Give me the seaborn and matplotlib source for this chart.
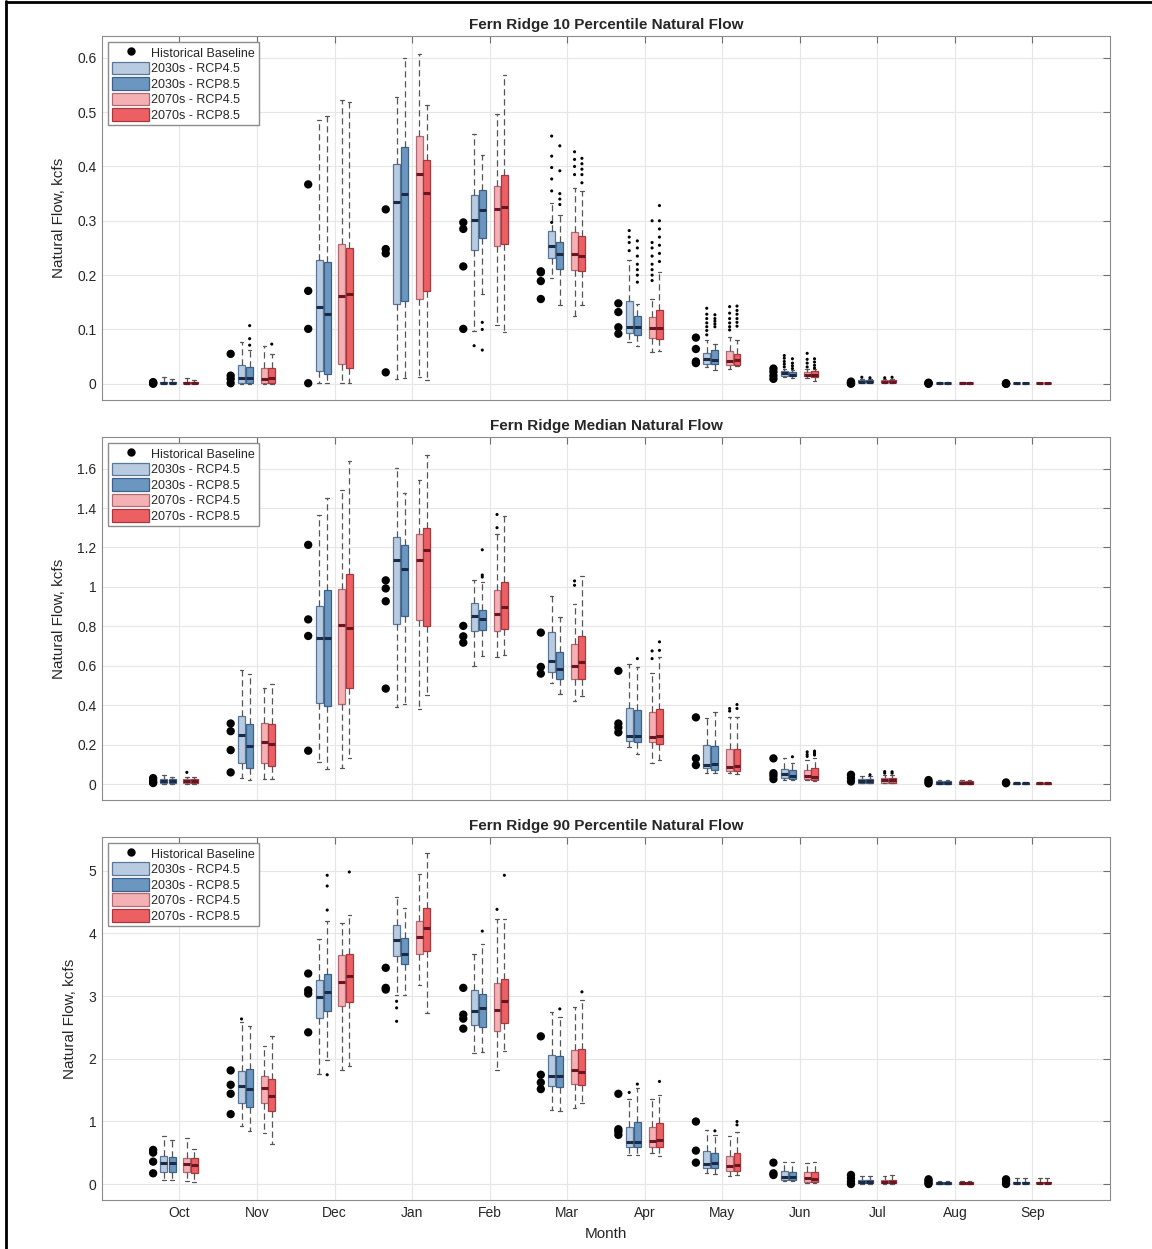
# Fern Ridge natural flow - monthly boxplots by climate scenario
import pandas as pd
import seaborn as sns
import matplotlib.pyplot as plt
from matplotlib.lines import Line2D
from matplotlib.patches import Patch
from matplotlib.ticker import FuncFormatter

months = ['Oct', 'Nov', 'Dec', 'Jan', 'Feb', 'Mar', 'Apr', 'May', 'Jun', 'Jul', 'Aug', 'Sep']
scenarios = ['2030s - RCP4.5', '2030s - RCP8.5', '2070s - RCP4.5', '2070s - RCP8.5']

# ---------------------------------------------------------------
# 10 percentile panel  (box stats: low whisker, q1, median, q3, high whisker)
# ---------------------------------------------------------------
p10_hist = [[0.0, 0.001, 0.002, 0.003], [0.055, 0.015, 0.009, 0.001], [0.367, 0.171, 0.101, 0.001],
            [0.321, 0.248, 0.240, 0.021], [0.297, 0.285, 0.216, 0.101], [0.207, 0.205, 0.189, 0.156],
            [0.148, 0.132, 0.104, 0.092], [0.085, 0.064, 0.041, 0.038], [0.028, 0.022, 0.015, 0.009],
            [0.004, 0.002, 0.001, 0.0], [0.002, 0.001, 0.0005, 0.0], [0.001, 0.0005, 0.0, 0.0]]
p10_c45 = [(0.0, 0.001, 0.002, 0.004, 0.012), (0.0, 0.001, 0.010, 0.034, 0.077), (0.001, 0.023, 0.141, 0.227, 0.485),
           (0.009, 0.146, 0.334, 0.404, 0.527), (0.098, 0.246, 0.301, 0.347, 0.460), (0.195, 0.231, 0.253, 0.282, 0.332),
           (0.077, 0.093, 0.105, 0.153, 0.227), (0.031, 0.036, 0.046, 0.057, 0.080), (0.012, 0.015, 0.019, 0.023, 0.027),
           (0.001, 0.003, 0.004, 0.006, 0.009), (0.0, 0.001, 0.0015, 0.002, 0.003), (0.0, 0.0005, 0.001, 0.0015, 0.002)]
p10_c85 = [(0.0, 0.001, 0.002, 0.003, 0.008), (0.0, 0.001, 0.010, 0.031, 0.062), (0.001, 0.018, 0.129, 0.225, 0.493),
           (0.011, 0.152, 0.350, 0.435, 0.600), (0.165, 0.269, 0.320, 0.357, 0.421), (0.145, 0.212, 0.238, 0.261, 0.310),
           (0.070, 0.090, 0.105, 0.124, 0.147), (0.025, 0.036, 0.044, 0.063, 0.074), (0.011, 0.014, 0.017, 0.022, 0.025),
           (0.001, 0.003, 0.004, 0.006, 0.009), (0.0, 0.001, 0.0015, 0.002, 0.003), (0.0, 0.0005, 0.001, 0.0015, 0.002)]
p10_f45 = [(0.0, 0.001, 0.002, 0.003, 0.010), (0.0, 0.001, 0.008, 0.029, 0.070), (0.001, 0.036, 0.162, 0.257, 0.522),
           (0.013, 0.156, 0.386, 0.456, 0.607), (0.109, 0.254, 0.321, 0.364, 0.496), (0.124, 0.209, 0.239, 0.279, 0.361),
           (0.058, 0.085, 0.102, 0.122, 0.156), (0.028, 0.034, 0.042, 0.060, 0.086), (0.010, 0.014, 0.017, 0.022, 0.027),
           (0.001, 0.003, 0.004, 0.006, 0.009), (0.0, 0.001, 0.0015, 0.002, 0.003), (0.0, 0.0005, 0.001, 0.0015, 0.002)]
p10_f85 = [(0.0, 0.001, 0.002, 0.003, 0.006), (0.0, 0.001, 0.011, 0.029, 0.055), (0.001, 0.029, 0.165, 0.250, 0.519),
           (0.007, 0.170, 0.352, 0.412, 0.513), (0.096, 0.257, 0.326, 0.385, 0.568), (0.145, 0.208, 0.235, 0.272, 0.355),
           (0.060, 0.083, 0.103, 0.135, 0.205), (0.033, 0.034, 0.043, 0.054, 0.080), (0.005, 0.013, 0.017, 0.023, 0.028),
           (0.001, 0.003, 0.004, 0.006, 0.009), (0.0, 0.001, 0.0015, 0.002, 0.003), (0.0, 0.0005, 0.001, 0.0015, 0.002)]
# outliers: (month index, value)
p10_out_c45 = [(4, 0.070), (5, 0.297), (5, 0.355), (5, 0.377), (5, 0.398), (5, 0.419), (5, 0.456),
               (6, 0.245), (6, 0.260), (6, 0.270), (6, 0.282), (7, 0.090), (7, 0.098), (7, 0.105), (7, 0.112),
               (7, 0.120), (7, 0.128), (7, 0.139), (8, 0.031), (8, 0.036), (8, 0.041), (8, 0.047), (8, 0.052), (9, 0.012)]
p10_out_c85 = [(1, 0.071), (1, 0.083), (1, 0.107), (4, 0.113), (4, 0.100), (4, 0.062), (5, 0.330), (5, 0.340),
               (5, 0.350), (5, 0.392), (5, 0.438), (6, 0.187), (6, 0.200), (6, 0.210), (6, 0.220), (6, 0.235),
               (6, 0.250), (6, 0.263), (7, 0.105), (7, 0.110), (7, 0.115), (7, 0.120), (7, 0.127), (8, 0.028),
               (8, 0.033), (8, 0.038), (8, 0.046), (9, 0.011)]
p10_out_f45 = [(5, 0.385), (5, 0.400), (5, 0.413), (5, 0.427), (6, 0.190), (6, 0.200), (6, 0.210), (6, 0.220),
               (6, 0.235), (6, 0.250), (6, 0.260), (6, 0.300), (7, 0.099), (7, 0.105), (7, 0.112), (7, 0.120),
               (7, 0.130), (7, 0.142), (8, 0.031), (8, 0.038), (8, 0.045), (8, 0.056), (9, 0.011)]
p10_out_f85 = [(1, 0.073), (5, 0.370), (5, 0.385), (5, 0.395), (5, 0.405), (5, 0.415), (6, 0.225), (6, 0.240),
               (6, 0.255), (6, 0.270), (6, 0.285), (6, 0.300), (6, 0.328), (7, 0.106), (7, 0.113), (7, 0.120),
               (7, 0.128), (7, 0.135), (7, 0.143), (8, 0.029), (8, 0.034), (8, 0.040), (8, 0.046), (9, 0.012)]

# ---------------------------------------------------------------
# median panel
# ---------------------------------------------------------------
p50_hist = [[0.030, 0.020, 0.010, 0.005], [0.307, 0.268, 0.172, 0.059], [1.213, 0.835, 0.751, 0.169],
            [1.033, 0.992, 0.927, 0.484], [0.802, 0.749, 0.717], [0.768, 0.594, 0.560],
            [0.574, 0.307, 0.287, 0.262], [0.338, 0.130, 0.096], [0.130, 0.055, 0.042, 0.025],
            [0.047, 0.030, 0.013], [0.020, 0.010, 0.003], [0.008, 0.004]]
p50_c45 = [(0.0, 0.003, 0.017, 0.025, 0.045), (0.029, 0.108, 0.251, 0.344, 0.577), (0.110, 0.412, 0.743, 0.901, 1.362),
           (0.392, 0.810, 1.134, 1.252, 1.603), (0.597, 0.776, 0.852, 0.920, 1.036), (0.510, 0.569, 0.623, 0.771, 0.954),
           (0.186, 0.219, 0.243, 0.388, 0.611), (0.057, 0.079, 0.098, 0.196, 0.336), (0.022, 0.030, 0.050, 0.077, 0.133),
           (0.005, 0.007, 0.015, 0.027, 0.043), (0.001, 0.002, 0.007, 0.015, 0.020), (0.0, 0.002, 0.004, 0.006, 0.009)]
p50_c85 = [(0.0, 0.003, 0.017, 0.023, 0.038), (0.020, 0.079, 0.192, 0.302, 0.560), (0.074, 0.397, 0.743, 0.982, 1.451),
           (0.408, 0.851, 1.092, 1.213, 1.477), (0.650, 0.783, 0.839, 0.884, 1.024), (0.459, 0.535, 0.584, 0.670, 0.847),
           (0.152, 0.214, 0.246, 0.375, 0.594), (0.054, 0.071, 0.101, 0.192, 0.366), (0.020, 0.025, 0.042, 0.072, 0.108),
           (0.005, 0.007, 0.015, 0.027, 0.040), (0.001, 0.002, 0.007, 0.015, 0.020), (0.0, 0.002, 0.004, 0.006, 0.009)]
p50_f45 = [(0.0, 0.003, 0.015, 0.023, 0.035), (0.024, 0.105, 0.211, 0.311, 0.489), (0.079, 0.408, 0.805, 0.989, 1.489),
           (0.383, 0.830, 1.134, 1.269, 1.543), (0.645, 0.775, 0.861, 0.986, 1.269), (0.420, 0.532, 0.599, 0.709, 0.915),
           (0.108, 0.214, 0.236, 0.363, 0.565), (0.054, 0.068, 0.088, 0.176, 0.341), (0.020, 0.025, 0.042, 0.072, 0.122),
           (0.005, 0.007, 0.018, 0.030, 0.045), (0.001, 0.002, 0.007, 0.015, 0.020), (0.0, 0.002, 0.004, 0.006, 0.009)]
p50_f85 = [(0.0, 0.003, 0.015, 0.023, 0.035), (0.024, 0.093, 0.201, 0.302, 0.506), (0.130, 0.488, 0.793, 1.065, 1.640),
           (0.454, 0.800, 1.185, 1.300, 1.671), (0.653, 0.785, 0.898, 1.024, 1.357), (0.447, 0.532, 0.619, 0.751, 1.055),
           (0.120, 0.201, 0.245, 0.383, 0.645), (0.049, 0.066, 0.091, 0.179, 0.341), (0.015, 0.022, 0.038, 0.080, 0.130),
           (0.005, 0.007, 0.018, 0.030, 0.045), (0.001, 0.002, 0.007, 0.015, 0.020), (0.0, 0.002, 0.004, 0.006, 0.009)]
p50_out_c45 = []
p50_out_c85 = [(4, 1.050), (4, 1.060), (4, 1.188), (6, 0.636), (8, 0.138), (9, 0.047)]
p50_out_f45 = [(0, 0.059), (4, 1.300), (4, 1.367), (5, 1.008), (5, 1.030), (6, 0.636), (6, 0.675), (7, 0.370),
               (7, 0.383), (8, 0.140), (8, 0.150), (8, 0.163), (9, 0.055), (9, 0.063)]
p50_out_f85 = [(6, 0.678), (6, 0.721), (7, 0.383), (7, 0.403), (8, 0.147), (8, 0.155), (8, 0.160), (8, 0.167),
               (9, 0.055), (9, 0.062)]

# ---------------------------------------------------------------
# 90 percentile panel
# ---------------------------------------------------------------
p90_hist = [[0.544, 0.501, 0.357, 0.171], [1.813, 1.584, 1.440, 1.115], [3.360, 3.093, 3.040, 2.421],
            [3.451, 3.131, 3.104], [3.131, 2.704, 2.640, 2.480], [2.357, 1.744, 1.621, 1.515],
            [1.440, 0.875, 0.837, 0.784], [0.997, 0.533, 0.341], [0.341, 0.171, 0.144],
            [0.144, 0.091, 0.037, 0.0], [0.075, 0.050, 0.020, 0.0], [0.075, 0.037, 0.0]]
p90_c45 = [(0.064, 0.197, 0.341, 0.448, 0.768), (0.933, 1.291, 1.557, 1.797, 2.581), (1.760, 2.651, 2.987, 3.264, 3.904),
           (3.024, 3.637, 3.893, 4.128, 4.587), (2.091, 2.533, 2.768, 3.093, 3.664), (1.184, 1.557, 1.717, 2.064, 2.741),
           (0.464, 0.587, 0.677, 0.917, 1.355), (0.171, 0.251, 0.320, 0.528, 0.864), (0.053, 0.064, 0.117, 0.213, 0.347),
           (0.0, 0.010, 0.037, 0.064, 0.133), (0.0, 0.005, 0.010, 0.037, 0.053), (0.0, 0.010, 0.020, 0.037, 0.090)]
p90_c85 = [(0.064, 0.197, 0.341, 0.437, 0.704), (0.853, 1.237, 1.520, 1.835, 2.517), (1.984, 2.757, 3.067, 3.360, 4.197),
           (3.013, 3.504, 3.664, 3.931, 4.411), (2.101, 2.507, 2.811, 3.040, 3.824), (1.173, 1.547, 1.717, 2.037, 2.667),
           (0.464, 0.597, 0.677, 0.987, 1.531), (0.160, 0.261, 0.331, 0.501, 0.784), (0.040, 0.064, 0.107, 0.187, 0.357),
           (0.0, 0.010, 0.037, 0.064, 0.133), (0.0, 0.005, 0.010, 0.037, 0.053), (0.0, 0.010, 0.020, 0.037, 0.090)]
p90_f45 = [(0.053, 0.197, 0.320, 0.421, 0.731), (0.821, 1.291, 1.531, 1.717, 2.197), (1.813, 2.837, 3.227, 3.653, 4.160),
           (3.173, 3.664, 3.941, 4.197, 4.955), (1.824, 2.437, 2.773, 3.211, 4.224), (1.211, 1.600, 1.824, 2.133, 2.821),
           (0.491, 0.597, 0.688, 0.907, 1.360), (0.128, 0.213, 0.288, 0.453, 0.768), (0.020, 0.037, 0.091, 0.187, 0.330),
           (0.0, 0.010, 0.037, 0.064, 0.133), (0.0, 0.005, 0.010, 0.037, 0.053), (0.0, 0.010, 0.020, 0.037, 0.090)]
p90_f85 = [(0.037, 0.171, 0.304, 0.411, 0.555), (0.640, 1.173, 1.408, 1.675, 2.368), (1.877, 2.907, 3.328, 3.675, 4.288),
           (2.731, 3.717, 4.091, 4.400, 5.280), (2.117, 2.571, 2.928, 3.275, 4.235), (1.291, 1.573, 1.781, 2.155, 2.933),
           (0.448, 0.587, 0.704, 0.981, 1.424), (0.144, 0.213, 0.304, 0.491, 0.837), (0.020, 0.027, 0.080, 0.187, 0.347),
           (0.0, 0.010, 0.037, 0.064, 0.140), (0.0, 0.005, 0.010, 0.037, 0.053), (0.0, 0.010, 0.020, 0.037, 0.090)]
p90_out_c45 = [(1, 2.635), (3, 2.917), (3, 2.811), (3, 2.597), (6, 1.461)]
p90_out_c85 = [(2, 4.373), (2, 4.757), (2, 4.928), (2, 1.744), (4, 4.037), (5, 2.795), (6, 1.595), (7, 0.848)]
p90_out_f45 = [(4, 4.384)]
p90_out_f85 = [(2, 4.981), (4, 4.928), (5, 3.067), (6, 1.637), (7, 0.944), (7, 0.997)]

titles = ['Fern Ridge 10 Percentile Natural Flow', 'Fern Ridge Median Natural Flow',
          'Fern Ridge 90 Percentile Natural Flow']
ylims = [(-0.03, 0.64), (-0.081, 1.76), (-0.256, 5.54)]
yticks = [[0, 0.1, 0.2, 0.3, 0.4, 0.5, 0.6], [0, 0.2, 0.4, 0.6, 0.8, 1, 1.2, 1.4, 1.6], [0, 1, 2, 3, 4, 5]]

# styling
fills = ['#b8cbe0', '#6a96c0', '#f4b0b2', '#ec6064']
edges = ['#5a7698', '#3e6189', '#b06a74', '#a8383e']
medians = ['#1c2b45', '#1c2b45', '#6a1522', '#6a1522']
offsets = [-0.20, -0.095, 0.095, 0.19]
hist_off = -0.34

sns.set_style('white')
plt.rcParams['font.family'] = ['Liberation Sans', 'DejaVu Sans']


def to_long(stats, off):
    rows = []
    for i, s in enumerate(stats):
        for v in s:
            rows.append((i + off, v))
    return pd.DataFrame(rows, columns=['pos', 'val'])


fig = plt.figure(figsize=(11.52, 12.49), dpi=100)
positions = [[0.0885, 0.6797, 0.875, 0.2914], [0.0885, 0.3595, 0.875, 0.2906], [0.0885, 0.0392, 0.875, 0.2907]]

panels = [
    (p10_hist, [p10_c45, p10_c85, p10_f45, p10_f85], [p10_out_c45, p10_out_c85, p10_out_f45, p10_out_f85]),
    (p50_hist, [p50_c45, p50_c85, p50_f45, p50_f85], [p50_out_c45, p50_out_c85, p50_out_f45, p50_out_f85]),
    (p90_hist, [p90_c45, p90_c85, p90_f45, p90_f85], [p90_out_c45, p90_out_c85, p90_out_f45, p90_out_f85]),
]

for k, (hist, groups, outs) in enumerate(panels):
    ax = fig.add_axes(positions[k])
    ax.set_axisbelow(True)

    # scenario boxes
    for g in range(4):
        df = to_long(groups[g], offsets[g])
        sns.boxplot(data=df, x='pos', y='val', orient='x', native_scale=True, width=0.09,
                    whis=(0, 100), color=fills[g], saturation=1, linecolor=edges[g],
                    linewidth=0.9, fliersize=0, ax=ax,
                    whiskerprops=dict(color='#555555', linestyle=(0, (5, 3)), linewidth=0.9),
                    capprops=dict(color='#555555', linewidth=0.9),
                    medianprops=dict(color=medians[g], linewidth=2.2))
        if outs[g]:
            odf = pd.DataFrame(outs[g], columns=['m', 'val'])
            odf['pos'] = odf['m'] + offsets[g]
            sns.scatterplot(data=odf, x='pos', y='val', color='black', s=5, marker='o',
                            edgecolor='none', ax=ax, zorder=4)

    # historical baseline
    hdf = to_long(hist, hist_off)
    sns.scatterplot(data=hdf, x='pos', y='val', color='black', s=36, marker='o',
                    edgecolor='none', ax=ax, zorder=4)

    ax.set_xlim(-1, 12)
    ax.set_ylim(*ylims[k])
    ax.set_xticks(range(12))
    ax.set_yticks(yticks[k])
    ax.yaxis.set_major_formatter(FuncFormatter(lambda v, p: '%g' % v))
    ax.grid(True, color='#e6e6e6', linewidth=0.8)
    for sp in ax.spines.values():
        sp.set_color('#8c8c8c')
        sp.set_linewidth(0.8)
    ax.tick_params(direction='in', top=True, right=True, length=5, width=0.8,
                   color='#6e6e6e', labelsize=10, labelcolor='#262626', pad=4)
    if k == 2:
        ax.set_xticklabels(months)
        ax.set_xlabel('Month', fontsize=11, color='#262626', labelpad=5)
    else:
        ax.set_xticklabels([])
        ax.set_xlabel('')
    ax.set_ylabel('Natural Flow, kcfs', fontsize=11, color='#262626', labelpad=8)
    ax.set_title(titles[k], fontsize=11, fontweight='bold', pad=5)

    handles = [Line2D([], [], marker='o', color='black', linestyle='', markersize=5)]
    handles += [Patch(facecolor=fills[g], edgecolor=edges[g], linewidth=0.9) for g in range(4)]
    ax.legend(handles, ['Historical Baseline'] + scenarios, loc='upper left', fontsize=9,
              frameon=True, fancybox=False, edgecolor='#8c8c8c', framealpha=1,
              borderpad=0.3, labelspacing=0.15, handlelength=3.0, handleheight=1.2,
              handletextpad=0.15, borderaxespad=0.5)

# outer frame of the screenshot (left and top edges)
fig.add_artist(Line2D([0.0055, 0.0055], [0, 0.999], transform=fig.transFigure, color='black', linewidth=2))
fig.add_artist(Line2D([0.0055, 1], [0.998, 0.998], transform=fig.transFigure, color='black', linewidth=2))

fig.savefig('out.png', dpi=100)
